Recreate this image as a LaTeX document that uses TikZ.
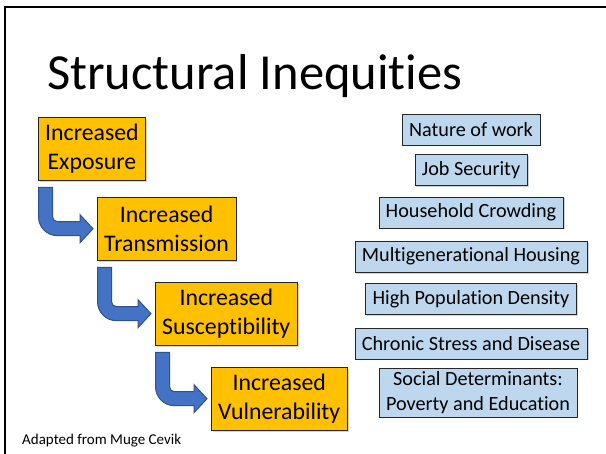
\documentclass[tikz,border=0pt]{standalone}
\usepackage{fontspec}
\setmainfont{Carlito}[Ligatures={NoCommon, NoRare, NoContextual}]
\usepackage{tikz}
\usetikzlibrary{positioning, calc, shadows}
\definecolor{myorange}{RGB}{255,192,0}
\definecolor{mylightblue}{RGB}{189,215,238}
\definecolor{myarrowblue}{RGB}{68,114,196}
\definecolor{myarrowedge}{RGB}{47,82,143}
\tikzstyle{incbox} = [rectangle, draw=black!85, fill=myorange, minimum height=63pt, inner xsep=7pt, align=center, font=\fontsize{23.8}{29.5}\selectfont, drop shadow={shadow xshift=1.5pt, shadow yshift=-1.5pt, opacity=0.35}]
\tikzstyle{factor} = [rectangle, draw=black!85, fill=mylightblue, minimum height=31pt, inner xsep=7pt, align=center, font=\fontsize{20.2}{24.5}\selectfont, drop shadow={shadow xshift=1.5pt, shadow yshift=-1.5pt, opacity=0.35}]
\tikzstyle{bent} = [fill=myarrowblue, draw=myarrowedge, line width=1pt]
% bent block arrow from below one box into the left side of the next
\newcommand{\bendarrow}[2]{%
  \path[bent] let \p1 = (#1.south west), \p2 = (#2.west) in
    (\x1+0.5pt, \y1-7pt) -- (\x1+14.5pt, \y1-7pt)
    -- (\x1+14.5pt, \y2+12pt) arc[start angle=180, end angle=270, radius=5pt]
    -- (\x2-17pt, \y2+7pt) -- (\x2-17pt, \y2+14pt) -- (\x2-4pt, \y2)
    -- (\x2-17pt, \y2-14pt) -- (\x2-17pt, \y2-7pt)
    -- (\x1+19.5pt, \y2-7pt) arc[start angle=270, end angle=180, radius=19pt]
    -- cycle;
}

\begin{document}
\begin{tikzpicture}[x=1pt, y=-1pt, node distance=12pt]
    \useasboundingbox (0,0) rectangle (606,454);
    \draw[line width=2pt] (5,454) -- (5,7) -- (606,7);

    \node (title) [anchor=base west, inner sep=0, font=\fontsize{50.5}{58}\selectfont] at (47,90) {Structural Inequities};

    \node (expo) [incbox, anchor=north west] at (38,117) {Increased\\Exposure};
    \node (trans) [incbox, anchor=north west] at (97,197) {Increased\\Transmission};
    \node (suscep) [incbox, anchor=north west] at (155,282) {Increased\\Susceptibility};
    \node (vulner) [incbox, anchor=north west] at (211,367) {Increased\\Vulnerability};

    \bendarrow{expo}{trans}
    \bendarrow{trans}{suscep}
    \bendarrow{suscep}{vulner}

    \node (work) [factor] at (471,129.5) {Nature of work};
    \node (job) [factor, below=9pt of work] {Job Security};
    \node (crowd) [factor, below=11pt of job] {Household Crowding};
    \node (multi) [factor, below=13pt of crowd] {Multigenerational Housing};
    \node (density) [factor, below=11pt of multi] {High Population Density};
    \node (stress) [factor, below=13pt of density] {Chronic Stress and Disease};
    \node (social) [factor, below=9pt of stress, xshift=7pt] {Social Determinants:\\Poverty and Education};

    \node (source) [anchor=base west, inner sep=0, font=\fontsize{15}{18}\selectfont] at (22,445) {Adapted from Muge Cevik};
\end{tikzpicture}
\end{document}
